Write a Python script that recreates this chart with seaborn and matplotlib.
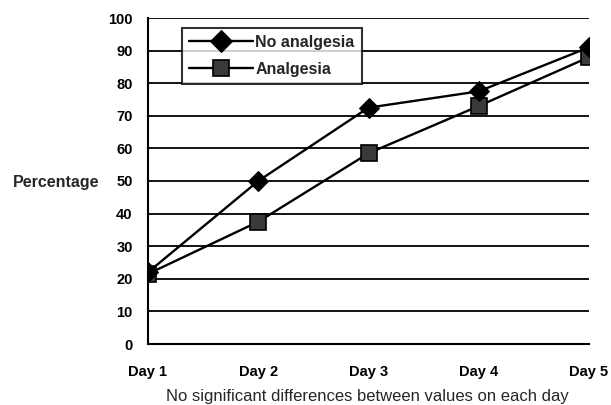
import matplotlib
matplotlib.use("Agg")
import matplotlib.pyplot as plt
import seaborn as sns
import pandas as pd

days = ["Day 1", "Day 2", "Day 3", "Day 4", "Day 5"]
no_analgesia = [22, 50, 72.5, 77.5, 91]
analgesia = [21.5, 37.5, 58.5, 73, 88]
yticks = list(range(0, 101, 10))

sns.set_theme(style="white")
plt.rcParams['font.family'] = ['Liberation Sans', 'DejaVu Sans']

fig = plt.figure(figsize=(6.11, 4.05), dpi=100)
ax = fig.add_axes([148/611, 1-344/405, (589-148)/611, (344-18)/405])

x = list(range(len(days)))
df1 = pd.DataFrame({"x": x, "y": no_analgesia})
df2 = pd.DataFrame({"x": x, "y": analgesia})
sns.lineplot(data=df1, x="x", y="y", ax=ax, color="black", lw=1.7,
             marker="D", markersize=10, markerfacecolor="black",
             markeredgecolor="black", label="No analgesia", zorder=4)
sns.lineplot(data=df2, x="x", y="y", ax=ax, color="black", lw=1.7,
             marker="s", markersize=11, markerfacecolor="#3a3a3a",
             markeredgecolor="black", markeredgewidth=1.2,
             label="Analgesia", zorder=3)

ax.set_xlim(0, 4)
ax.set_ylim(0, 100)
ax.set_yticks(yticks)
ax.set_xticks(x)
ax.set_xticklabels(days, fontweight="bold", fontsize=10.5)
ax.set_yticklabels([str(t) for t in yticks], fontweight="bold", fontsize=10.5)
for t in yticks[1:]:
    ax.axhline(t, color="black", lw=1.3, zorder=1)
for s in ["top", "right"]:
    ax.spines[s].set_visible(False)
ax.spines["left"].set_linewidth(1.5)
ax.spines["bottom"].set_linewidth(1.5)
ax.spines["left"].set_color("black")
ax.spines["bottom"].set_color("black")
ax.tick_params(axis="y", direction="out", length=7, width=1.3, colors="black", pad=4)
ax.tick_params(axis="x", direction="inout", length=10, width=1.3, colors="black", pad=10)

ax.set_ylabel("Percentage", rotation=0, fontweight="bold", fontsize=11.5,
              ha="center", va="center")
ax.yaxis.set_label_coords(-0.209, 0.495)
ax.set_xlabel("No significant differences between values on each day", fontsize=12)
ax.xaxis.set_label_coords(0.497, -0.137)

leg = ax.legend(loc="upper left", bbox_to_anchor=(0.077, 0.97), frameon=True,
                fancybox=False, edgecolor="black", handlelength=4.0,
                prop={"weight": "bold", "size": 11.5}, borderpad=0.45,
                labelspacing=0.75, handletextpad=0.15, borderaxespad=0,
                markerscale=1.1)
leg.get_frame().set_linewidth(1.5)
leg.set_zorder(10)

fig.savefig("out.png", dpi=100, facecolor="white")
